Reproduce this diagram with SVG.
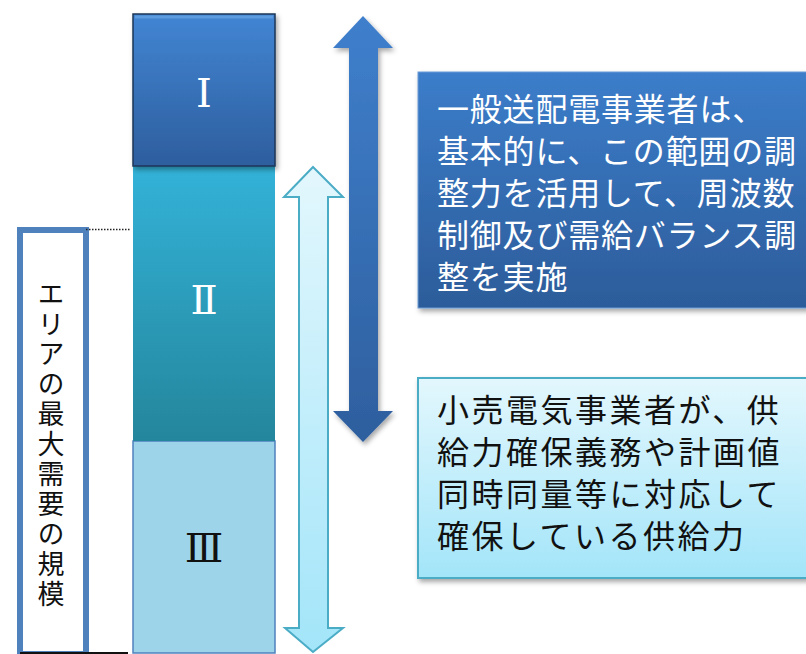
<svg xmlns="http://www.w3.org/2000/svg" width="806" height="654" viewBox="0 0 806 654">
<defs>
<linearGradient id="gI" x1="0" y1="0" x2="0" y2="1"><stop offset="0" stop-color="#4285d3"/><stop offset="1" stop-color="#2d5e9e"/></linearGradient>
<linearGradient id="gII" x1="0" y1="0" x2="0" y2="1"><stop offset="0" stop-color="#33b2d8"/><stop offset="1" stop-color="#24869c"/></linearGradient>
<linearGradient id="gDark" x1="0" y1="0" x2="0" y2="1"><stop offset="0" stop-color="#3f7fcc"/><stop offset="1" stop-color="#2e5f9e"/></linearGradient>
<linearGradient id="gBox1" x1="0" y1="0" x2="0" y2="1"><stop offset="0" stop-color="#3c7dca"/><stop offset="1" stop-color="#2c5c9a"/></linearGradient>
<linearGradient id="gLight" x1="0" y1="0" x2="0" y2="1"><stop offset="0" stop-color="#e3f7fd"/><stop offset="1" stop-color="#a3e5f9"/></linearGradient>
<filter id="sh" x="-10%" y="-10%" width="130%" height="130%"><feDropShadow dx="2" dy="3" stdDeviation="2.5" flood-color="#000" flood-opacity="0.35"/></filter>
</defs>
<style>
.num{font-family:"DejaVu Serif","Liberation Serif",serif;font-size:40px;text-anchor:middle;dominant-baseline:central}
.jp1{font-family:"Noto Sans CJK JP","Noto Sans",sans-serif;font-size:32px;letter-spacing:0.8px}
.jp2{font-family:"Noto Sans CJK JP","Noto Sans",sans-serif;font-size:32px;letter-spacing:2.5px}
.vt{font-family:"Noto Sans CJK JP","Noto Sans",sans-serif;font-size:27px;fill:#111;writing-mode:vertical-rl;text-orientation:upright;letter-spacing:3px}
</style>
<g id="barIII">
<rect x="133" y="441" width="142" height="212" fill="#9dd4ea" stroke="#4f81bd" stroke-width="1.5"/>
<text class="num" x="204" y="548" fill="#111">Ⅲ</text>
</g>
<g id="barII">
<rect x="133" y="166" width="142" height="275" fill="url(#gII)"/>
<text class="num" x="204" y="300" fill="#ffffff">Ⅱ</text>
</g>
<g id="barI">
<rect x="133" y="14" width="142" height="152" fill="url(#gI)" stroke="#1c3557" stroke-width="1.5" filter="url(#sh)"/>
<rect x="135" y="15.5" width="138" height="3" fill="#6aa4e4" opacity="0.7"/>
<text class="num" x="204" y="93" fill="#ffffff">Ⅰ</text>
</g>
<g id="area">
<rect x="20" y="230" width="66" height="424" fill="#ffffff" stroke="#4f81bd" stroke-width="6"/>
<text class="vt" x="51" y="280">エリアの最大需要の規模</text>
</g>
<g id="connectors">
<line x1="86" y1="229.5" x2="130" y2="229.5" stroke="#222" stroke-width="1.5" stroke-dasharray="1.5 1.5"/>
<line x1="20" y1="653" x2="128" y2="653" stroke="#111" stroke-width="2"/>
<polygon points="363,16 393,48 378,48 378,411 393,411 363,442 333,411 349,411 349,48 333,48" fill="url(#gDark)" filter="url(#sh)"/>
<polygon points="313,167 343,197 328,197 328,628 343,628 313,652 285,628 299,628 299,197 284,197" fill="url(#gLight)" stroke="#4bacc6" stroke-width="2" stroke-linejoin="miter"/>
</g>
<g id="box1">
<rect x="418" y="72" width="400" height="236" fill="url(#gBox1)" stroke="#6b9bd6" stroke-width="1" filter="url(#sh)"/>
<text class="jp1" fill="#ffffff"><tspan x="437" y="121">一般送配電事業者は、</tspan><tspan x="437" y="163">基本的に、この範囲の調</tspan><tspan x="437" y="205">整力を活用して、周波数</tspan><tspan x="437" y="247">制御及び需給バランス調</tspan><tspan x="437" y="289">整を実施</tspan></text>
</g>
<g id="box2">
<rect x="418" y="378" width="400" height="200" fill="url(#gLight)" stroke="#4bacc6" stroke-width="2" filter="url(#sh)"/>
<text class="jp2" fill="#111"><tspan x="437" y="422">小売電気事業者が、供</tspan><tspan x="437" y="464">給力確保義務や計画値</tspan><tspan x="437" y="506">同時同量等に対応して</tspan><tspan x="437" y="548">確保している供給力</tspan></text>
</g>
</svg>
